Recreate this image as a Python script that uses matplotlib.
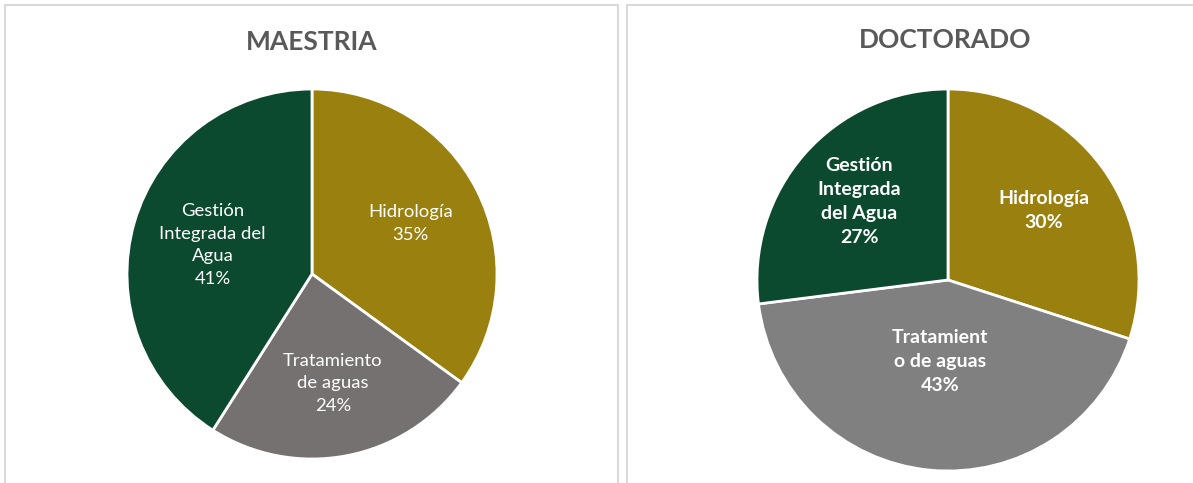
import numpy as np
from matplotlib import pyplot as plt
import matplotlib.patches as mpatches

plt.rcParams['font.family'] = ['Lato', 'DejaVu Sans']

# data
categories = ['Hidrología', 'Tratamiento de aguas', 'Gestión Integrada del Agua']
maestria = [35, 24, 41]
doctorado = [30, 43, 27]
# wrapped labels as they appear inside the slices
maestria_labels = ['Hidrología', 'Tratamiento\nde aguas', 'Gestión\nIntegrada del\nAgua']
doctorado_labels = ['Hidrología', 'Tratamient\no de aguas', 'Gestión\nIntegrada\ndel Agua']

olive = '#9A800E'
green = '#0B4A2E'
title_color = '#595959'

W, H = 1193, 483
fig = plt.figure(figsize=(W / 100, H / 100), dpi=100)

# panel frames
for x0, x1 in [(5, 618), (627, 1200)]:
    fig.patches.append(mpatches.Rectangle((x0 / W, -0.1), (x1 - x0) / W, 1.1 - 5 / H,
                                          transform=fig.transFigure, fill=False,
                                          edgecolor='#D9D9D9', linewidth=1.5))


def draw_pie(cx, cy, r, vals, labels, colors, title, tx, ty, bold, dists, fs):
    ax = fig.add_axes([(cx - r) / W, (H - cy - r) / H, 2 * r / W, 2 * r / H])
    wedges, _ = ax.pie(vals, colors=colors, startangle=90, counterclock=False,
                       radius=1, wedgeprops=dict(edgecolor='white', linewidth=2))
    total = float(sum(vals))
    for w, lab, v, d in zip(wedges, labels, vals, dists):
        ang = np.deg2rad((w.theta1 + w.theta2) / 2)
        ax.text(d * np.cos(ang), d * np.sin(ang), '%s\n%d%%' % (lab, round(100 * v / total)),
                ha='center', va='center', color='white', fontsize=fs,
                fontweight='bold' if bold else 'normal', linespacing=1.5)
    ax.set_xlim(-1, 1)
    ax.set_ylim(-1, 1)
    ax.set_aspect('auto')
    ax.axis('off')
    fig.text(tx / W, 1 - ty / H, title, ha='center', va='center', fontsize=19,
             fontweight='bold', color=title_color)


draw_pie(312, 274, 185, maestria, maestria_labels, [olive, '#767171', green],
         'MAESTRIA', 312, 42, False, [0.6, 0.6, 0.56], 13.3)
draw_pie(948, 280, 191, doctorado, doctorado_labels, [olive, '#808080', green],
         'DOCTORADO', 945, 40, True, [0.62, 0.43, 0.62], 14)

fig.savefig('out.png', dpi=100)
